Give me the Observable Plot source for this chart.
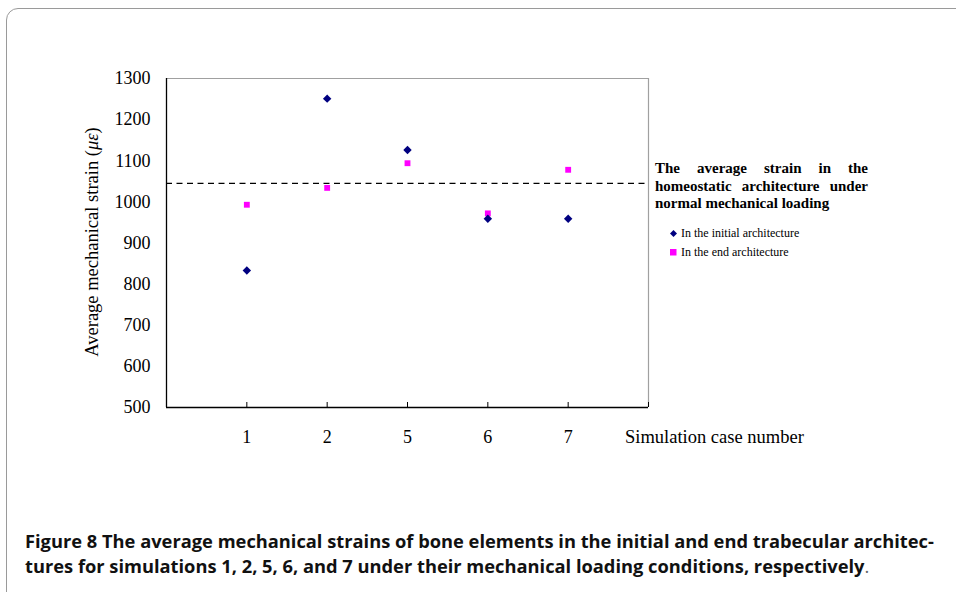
<!DOCTYPE html>
<html><head><meta charset="utf-8">
<script src="https://cdn.jsdelivr.net/npm/d3@7"></script>
<script src="https://cdn.jsdelivr.net/npm/@observablehq/plot@0.6"></script>
<style>
html,body{margin:0;padding:0;background:#fff;}
#wrap{position:relative;width:956px;height:592px;overflow:hidden;background:#fff;}
#border{position:absolute;left:6px;top:8px;width:980px;height:600px;border:1.3px solid #9a9a9a;border-radius:12px;}
#plot{position:absolute;left:0;top:0;}
.serif{font-family:"Liberation Serif","Times New Roman",serif;color:#000;}
#ylab{position:absolute;left:92px;top:242px;transform:translate(-50%,-50%) rotate(-90deg);white-space:nowrap;font-size:18.5px;}
#xlab{position:absolute;left:625px;top:427px;font-size:18.5px;white-space:nowrap;}
#note{position:absolute;left:655px;top:160px;width:213px;font-size:15px;font-weight:bold;line-height:17.5px;}
#note .j{text-align:justify;text-align-last:justify;white-space:nowrap;}
#legend{position:absolute;left:669px;top:224px;font-size:12px;line-height:19px;}
#legend .it{display:flex;align-items:center;gap:3px;white-space:nowrap;}
#caption{position:absolute;left:25px;top:528px;width:930px;font-family:"Open Sans","Noto Sans",sans-serif;font-weight:bold;font-size:18.3px;line-height:25px;color:#111;white-space:nowrap;}
</style></head>
<body><div id="wrap"><div id="border"></div><div id="plot"></div>
<div id="ylab" class="serif">Average mechanical strain (<i>με</i>)</div>
<div id="xlab" class="serif">Simulation case number</div>
<div id="note" class="serif"><div class="j">The average strain in the</div><div class="j">homeostatic architecture under</div><div>normal mechanical loading</div></div>
<div id="legend" class="serif"></div>
<div id="caption"></div>
</div>
<script>
const cases = ["1", "2", "5", "6", "7"];
const initialStrain = [833, 1251, 1126, 959, 959];
const endStrain = [993, 1034, 1094, 972, 1078];
const homeostatic = 1045;
const yTicks = [500, 600, 700, 800, 900, 1000, 1100, 1200, 1300];
const seriesNames = ["In the initial architecture", "In the end architecture"];
const seriesColors = ["#000080", "#ff00ff"];
const seriesSymbols = ["diamond2", "square"];
const captionBold = "Figure 8";
const captionLines = [" The average mechanical strains of bone elements in the initial and end trabecular architec-", "tures for simulations 1, 2, 5, 6, and 7 under their mechanical loading conditions, respectively"];

const rows = [];
cases.forEach((c, i) => {
  rows.push({pos: i + 1, value: initialStrain[i], series: seriesNames[0]});
  rows.push({pos: i + 1, value: endStrain[i], series: seriesNames[1]});
});
const positions = cases.map((c, i) => i + 1);

const chart = Plot.plot({
  width: 956, height: 470,
  marginLeft: 166, marginRight: 308, marginTop: 78, marginBottom: 63,
  style: {fontFamily: '"Liberation Serif","Times New Roman",serif', fontSize: "18px", color: "#000", background: "transparent"},
  x: {domain: [0, cases.length + 1]},
  y: {domain: [500, 1300]},
  color: {domain: seriesNames, range: seriesColors},
  symbol: {domain: seriesNames, range: seriesSymbols},
  marks: [
    Plot.ruleY([1300], {stroke: "#a0a0a0", strokeWidth: 1.2}),
    Plot.ruleX([cases.length + 1], {stroke: "#a0a0a0", strokeWidth: 1.2}),
    Plot.ruleY([homeostatic], {stroke: "#000", strokeWidth: 1.4, strokeDasharray: "6,4.5"}),
    Plot.axisY({ticks: yTicks, tickSize: 0, tickPadding: 16, tickFormat: d => String(d), label: null, fontSize: 18}),
    Plot.axisX({ticks: [...positions, cases.length + 1], tickSize: -5, tickFormat: () => "", label: null}),
    Plot.axisX({ticks: positions, tickSize: 0, tickPadding: 23, tickFormat: d => cases[d - 1], label: null, fontSize: 18}),
    Plot.ruleX([0], {stroke: "#000", strokeWidth: 1.3}),
    Plot.ruleY([500], {stroke: "#000", strokeWidth: 1.3}),
    Plot.dot(rows.filter(d => d.series === seriesNames[1]), {x: "pos", y: "value", fill: "series", symbol: "series", r: 3.3, stroke: null}),
    Plot.dot(rows.filter(d => d.series === seriesNames[0]), {x: "pos", y: "value", fill: "series", symbol: "series", r: 3.8, stroke: null})
  ]
});
document.getElementById("plot").appendChild(chart);

const leg = document.getElementById("legend");
seriesNames.forEach((n, i) => {
  const it = document.createElement("div");
  it.className = "it";
  const sym = i === 0
    ? `<svg width="9" height="9"><path d="M4.5 1 L8 4.5 L4.5 8 L1 4.5Z" fill="${seriesColors[i]}"/></svg>`
    : `<svg width="9" height="9"><rect x="1" y="1" width="6.5" height="6.5" fill="${seriesColors[i]}"/></svg>`;
  it.innerHTML = sym + "<span>" + n + "</span>";
  leg.appendChild(it);
});
document.getElementById("caption").innerHTML = `<span>${captionBold}</span>${captionLines[0]}<br>${captionLines[1]}<span style="font-weight:normal;color:#666">.</span>`;
</script>
</body></html>
